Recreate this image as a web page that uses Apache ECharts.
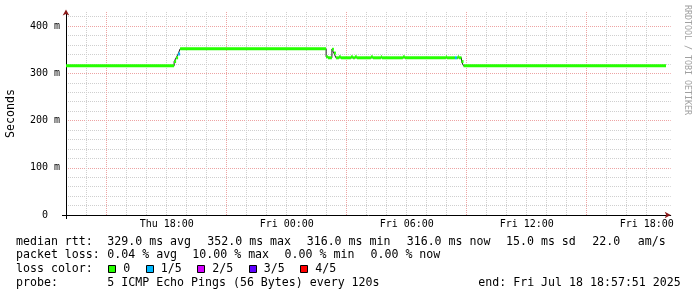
<!DOCTYPE html>
<html><head><meta charset="utf-8">
<script src="https://cdn.jsdelivr.net/npm/echarts@6/dist/echarts.min.js"></script>
<style>html,body{margin:0;padding:0;background:#fff}#c{width:697px;height:297px}</style>
</head><body><div id="c"></div>
<script>
// x values are hours since Thu Jul 17 2025 00:00
const xStart = 12.964;   // Thu 12:57:51
const xEnd = 42.964;     // Fri 18:57:51
const xAxisMax = 43.2;
const yAxisMax = 430;

// median rtt (ms) as steps: segment start hour, value, loss bucket
const segStart = [12.964, 18.37, 18.47, 18.57, 18.67, 25.97, 26.06, 26.26, 26.36, 26.46,
  26.61, 26.71, 27.21, 27.31, 27.41, 27.51, 28.21, 28.31, 28.71, 28.76,
  29.81, 29.91, 31.96, 32.01, 32.41, 32.51, 32.56, 32.61, 32.74, 32.84];
const segValue = [316, 325, 333, 341, 352, 335, 333, 351, 343, 333,
  335, 333, 335, 333, 335, 333, 335, 333, 335, 333,
  335, 333, 335, 333, 333, 333, 335, 333, 325, 316];
const segLoss = [0, 0, 0, 1, 0, 0, 0, 0, 0, 0,
  0, 0, 0, 0, 0, 0, 0, 0, 0, 0,
  0, 0, 0, 0, 1, 0, 0, 0, 0, 0];

const lossColors = ['#26ff00', '#00b8ff', '#d400ff', '#5e00ff', '#ff0000'];
const lossLabels = ['0', '1/5', '2/5', '3/5', '4/5'];

const xLabelValues = [18, 24, 30, 36, 42];
const xLabelTexts = ['Thu 18:00', 'Fri 00:00', 'Fri 06:00', 'Fri 12:00', 'Fri 18:00'];
const xMinorGrid = [13, 14, 16, 17, 18, 19, 20, 22, 23, 24, 25, 26, 28, 29, 30, 31, 32, 34, 35, 36, 37, 38, 40, 41, 42];
const xMajorGrid = [15, 21, 27, 33, 39];
const yLabelValues = [0, 100, 200, 300, 400];
const yMinorGrid = [20, 40, 60, 80, 120, 140, 160, 180, 220, 240, 260, 280, 320, 340, 360, 380, 420];
const yMajorGrid = [100, 200, 300, 400];

const legendLine1 = ['median rtt:', '329.0 ms avg', '352.0 ms max', '316.0 ms min', '316.0 ms now', '15.0 ms sd', '22.0', 'am/s'];
const legendLine2 = ['packet loss:', '0.04 % avg', '10.00 % max', '0.00 % min', '0.00 % now'];
const legendLine3Title = 'loss color:';
const legendLine4 = ['probe:', '5 ICMP Echo Pings (56 Bytes) every 120s', 'end: Fri Jul 18 18:57:51 2025'];
const yTitle = 'Seconds';
const watermark = 'RRDTOOL / TOBI OETIKER';

// ---- build ----
const MONO = 'DejaVu Sans Mono';
const segData = segStart.map((s, i) => [s, i + 1 < segStart.length ? segStart[i + 1] : xEnd, segValue[i], segLoss[i]]);
const lineData = segStart.map((s, i) => [s, segValue[i]]);
lineData.push([xEnd, segValue[segValue.length - 1]]);

const line1X = [16, 107.3, 207.3, 306.7, 406.7, 506, 592.3, 637.7];
const line2X = [16, 107.3, 192.3, 284.6, 370.5];
const line4X = [16, 107.3, 478.3];
const rowY = [241.5, 255.3, 269.1, 283];
const CW = 7.0;

const g = [];
function txt(s, x, y, extra) {
  g.push(Object.assign({ type: 'text', x: x, y: y, silent: true,
    style: { text: s, fontFamily: MONO, fontSize: 11.6, fill: '#000', textVerticalAlign: 'middle', textAlign: 'left' } }, extra || {}));
}
legendLine1.forEach((s, i) => txt(s, line1X[i], rowY[0]));
legendLine2.forEach((s, i) => txt(s, line2X[i], rowY[1]));
txt(legendLine3Title, 16, rowY[2]);
let lx = 108.3;
lossLabels.forEach((lab, i) => {
  g.push({ type: 'rect', silent: true, shape: { x: Math.round(lx) + 0.5, y: 265.5, width: 7, height: 7 },
    style: { fill: lossColors[i], stroke: '#000', lineWidth: 1 } });
  txt(lab, lx + 15, rowY[2]);
  lx = lx + 15 + lab.length * CW + 15.5;
});
legendLine4.forEach((s, i) => txt(s, line4X[i], rowY[3]));
g.push({ type: 'text', x: 687, y: 5, rotation: -Math.PI / 2, silent: true,
  style: { text: watermark, fontFamily: MONO, fontSize: 8.3, fill: '#a0a0a0', textVerticalAlign: 'middle', textAlign: 'left' } });

const gridDot = { color: '#cfcfcf', width: 1, type: [1, 1] };
const majorDot = { color: '#eda3a3', width: 1, type: [1, 1] };
const hidden = { show: false };

const chart = echarts.init(document.getElementById('c'), null, { renderer: 'canvas' });
chart.setOption({
  animation: false,
  backgroundColor: '#fff',
  grid: { left: 66, top: 12, width: (xAxisMax - xStart) * 20, height: 203, containLabel: false, outerBoundsMode: 'none' },
  xAxis: [
    { type: 'value', min: xStart, max: xAxisMax, position: 'bottom',
      axisLine: { show: true, onZero: false, lineStyle: { color: '#000', width: 1 } },
      axisTick: { show: false, customValues: xMinorGrid },
      splitLine: { show: true, lineStyle: gridDot },
      axisLabel: { show: true, customValues: xLabelValues, margin: 4, color: '#000', fontFamily: MONO, fontSize: 10,
        formatter: v => { const i = xLabelValues.indexOf(v); return i >= 0 ? xLabelTexts[i] : ''; } } },
    { type: 'value', min: xStart, max: xAxisMax, position: 'bottom',
      axisLine: hidden, axisLabel: hidden,
      axisTick: { show: false, customValues: xMajorGrid },
      splitLine: { show: true, lineStyle: majorDot } },
    { type: 'value', min: xStart, max: xAxisMax, position: 'bottom',
      axisLine: hidden, axisLabel: hidden, splitLine: hidden,
      axisTick: { show: true, customValues: [xStart], length: 4, lineStyle: { color: '#000' } } },
    { type: 'value', min: xStart, max: xAxisMax, position: 'bottom',
      axisLine: { show: true, onZero: false, symbol: ['none', 'arrow'], symbolSize: [5, 6], symbolOffset: [0, 0],
        lineStyle: { color: '#8b1a1a', width: 0 } },
      axisLabel: hidden, splitLine: hidden, axisTick: hidden }
  ],
  yAxis: [
    { type: 'value', min: 0, max: yAxisMax, position: 'left',
      name: yTitle, nameLocation: 'middle', nameRotate: 90, nameGap: 49,
      nameTextStyle: { fontFamily: MONO, fontSize: 11.6, color: '#000' },
      axisLine: { show: true, onZero: false, lineStyle: { color: '#000', width: 1 } },
      axisTick: { show: false, customValues: yMinorGrid },
      splitLine: { show: true, lineStyle: gridDot },
      axisLabel: { show: true, customValues: yLabelValues, margin: 6, color: '#000', fontFamily: MONO, fontSize: 10,
        formatter: v => v === 0 ? '0  ' : v + ' m' } },
    { type: 'value', min: 0, max: yAxisMax, position: 'left',
      axisLine: hidden, axisLabel: hidden,
      axisTick: { show: false, customValues: yMajorGrid },
      splitLine: { show: true, lineStyle: majorDot } },
    { type: 'value', min: 0, max: yAxisMax, position: 'left',
      axisLine: hidden, axisLabel: hidden, splitLine: hidden,
      axisTick: { show: true, customValues: [0], length: 4, lineStyle: { color: '#000' } } },
    { type: 'value', min: 0, max: yAxisMax, position: 'left',
      axisLine: { show: true, onZero: false, symbol: ['none', 'arrow'], symbolSize: [5, 6], symbolOffset: [0, 2.5],
        lineStyle: { color: '#8b1a1a', width: 0 } },
      axisLabel: hidden, splitLine: hidden, axisTick: hidden }
  ],
  series: [
    { type: 'line', xAxisIndex: 0, yAxisIndex: 0, data: lineData, step: 'end', symbol: 'none',
      lineStyle: { color: '#202020', width: 1 }, z: 3, silent: true },
    { type: 'custom', xAxisIndex: 0, yAxisIndex: 0, data: segData, z: 4, silent: true,
      dimensions: ['x0', 'x1', 'v', 'loss'], encode: { x: [0, 1], y: 2 },
      renderItem: function (params, api) {
        const p0 = api.coord([api.value(0), api.value(2)]);
        const p1 = api.coord([api.value(1), api.value(2)]);
        return { type: 'rect', shape: { x: p0[0], y: p0[1] - 1.5, width: p1[0] - p0[0], height: 3 },
          style: { fill: lossColors[api.value(3)] } };
      } }
  ],
  graphic: { elements: g }
});
</script></body></html>
